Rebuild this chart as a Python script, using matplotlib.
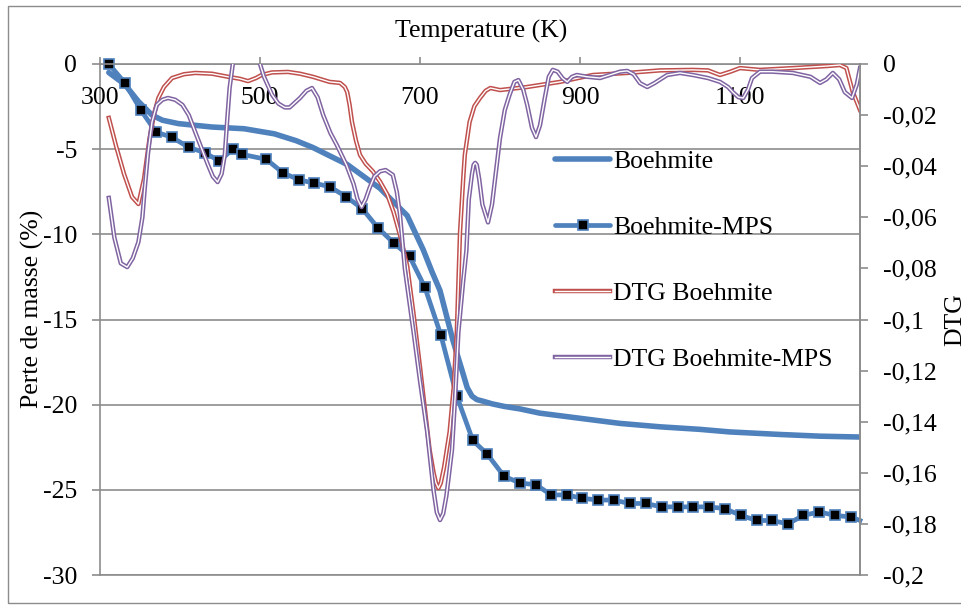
import matplotlib
matplotlib.use("Agg")
import matplotlib.pyplot as plt
import matplotlib.patheffects as pe
from matplotlib.lines import Line2D
from matplotlib.patches import Rectangle
from matplotlib.ticker import FuncFormatter

plt.rcParams["font.family"] = ["Liberation Serif", "DejaVu Serif"]
plt.rcParams["axes.unicode_minus"] = False

# mass loss (%) of plain boehmite
TEMP_B = [311, 331, 348, 365, 378, 398, 440, 480, 518, 545, 566, 609, 650, 684,
          704, 715, 725, 741, 752, 759, 765, 771, 779, 790, 805, 825, 850, 900,
          950, 1000, 1050, 1087, 1150, 1200, 1250]
MASS_B = [-0.5, -1.2, -2.2, -3.0, -3.3, -3.5, -3.7, -3.8, -4.1, -4.5, -4.9, -5.9,
          -7.3, -8.9, -10.9, -12.2, -13.3, -16.2, -17.9, -19.0, -19.5, -19.7,
          -19.8, -19.95, -20.1, -20.25, -20.5, -20.8, -21.1, -21.3, -21.45, -21.6,
          -21.75, -21.85, -21.9]

# mass loss (%) of boehmite-MPS, one sample every ~20 K
TEMP_MPS = [311, 331, 351, 370, 390, 411, 431, 449, 466, 477, 508, 529, 549, 568,
            587, 608, 628, 647, 667, 687, 706, 726, 746, 766, 784, 805, 825, 845,
            864, 884, 903, 923, 942, 962, 982, 1002, 1022, 1041, 1061, 1081, 1101,
            1121, 1140, 1160, 1179, 1199, 1219, 1239, 1250]
MASS_MPS = [0.0, -1.1, -2.7, -4.0, -4.3, -4.9, -5.2, -5.7, -5.0, -5.3, -5.6, -6.4,
            -6.8, -7.0, -7.2, -7.8, -8.5, -9.6, -10.5, -11.3, -13.1, -15.9, -19.5,
            -22.1, -22.9, -24.2, -24.6, -24.7, -25.3, -25.3, -25.5, -25.6, -25.6,
            -25.8, -25.8, -26.0, -26.0, -26.0, -26.0, -26.1, -26.5, -26.8, -26.8,
            -27.0, -26.5, -26.3, -26.5, -26.6, -26.8]

# derivative curves (right axis)
TEMP_DTG_B = [311, 320, 330, 340, 348, 355, 362, 368, 373, 380, 390, 405, 419, 440,
              460, 475, 485, 495, 502, 515, 535, 550, 566, 587, 600, 606, 609, 612,
              615, 620, 625, 632, 641, 650, 659, 667, 675, 684, 692, 700, 712, 717,
              720, 723, 726, 730, 737, 742, 746, 750, 754, 756, 762, 768, 775, 782,
              788, 800, 834, 875, 916, 959, 1000, 1041, 1060, 1075, 1088, 1100, 1125,
              1166, 1209, 1225, 1233, 1241, 1250]
DTG_B = [-0.0211, -0.032, -0.043, -0.052, -0.0548, -0.045, -0.029, -0.019, -0.0133,
         -0.009, -0.0055, -0.004, -0.0035, -0.0038, -0.005, -0.0058, -0.0067,
         -0.0055, -0.0043, -0.0033, -0.0031, -0.0038, -0.005, -0.007, -0.0074,
         -0.009, -0.011, -0.016, -0.0227, -0.030, -0.0356, -0.039, -0.042, -0.046,
         -0.051, -0.058, -0.067, -0.079, -0.098, -0.1186, -0.151, -0.160, -0.164,
         -0.166, -0.164, -0.158, -0.144, -0.127, -0.105, -0.066, -0.045, -0.0356,
         -0.0227, -0.0165, -0.0133, -0.0105, -0.0094, -0.0102, -0.009, -0.007,
         -0.0043, -0.0035, -0.0025, -0.0023, -0.0025, -0.0043, -0.003, -0.0016,
         -0.0023, -0.0016, -0.0008, -0.0004, -0.0016, -0.011, -0.018]

TEMP_DTG_MPS = [311, 318, 326, 334, 341, 348, 353, 356, 360, 365, 371, 378, 385, 394,
                403, 411, 419, 427, 435, 441, 447, 452, 456, 459, 462, 466, 472, 485,
                495, 500, 505, 515, 523, 531, 537, 544, 550, 558, 565, 572, 579, 588,
                596, 608, 617, 622, 627, 632, 637, 643, 650, 657, 666, 671, 675, 681,
                692, 700, 709, 717, 721, 725, 729, 733, 740, 744, 748, 754, 758, 761,
                765, 767, 769, 771, 774, 778, 785, 790, 795, 800, 806, 812, 818, 823,
                829, 834, 840, 845, 850, 856, 861, 866, 872, 878, 884, 890, 896, 909,
                925, 940, 950, 959, 967, 975, 984, 993, 1009, 1025, 1041, 1060, 1075,
                1085, 1091, 1098, 1104, 1110, 1115, 1125, 1140, 1166, 1188, 1200, 1208,
                1216, 1224, 1231, 1240, 1246, 1250]
DTG_MPS = [-0.0524, -0.068, -0.078, -0.0795, -0.076, -0.0697, -0.060, -0.0485,
           -0.035, -0.0227, -0.016, -0.014, -0.0133, -0.014, -0.016, -0.020, -0.0266,
           -0.033, -0.0395, -0.044, -0.0462, -0.043, -0.0356, -0.022, -0.0094, 0.0,
           0.010, 0.015, 0.008, 0.0, -0.005, -0.012, -0.0155, -0.017, -0.017, -0.015,
           -0.0133, -0.0105, -0.0094, -0.013, -0.020, -0.027, -0.0317, -0.0395,
           -0.047, -0.053, -0.056, -0.053, -0.0485, -0.044, -0.042, -0.0415, -0.0434,
           -0.050, -0.059, -0.080, -0.105, -0.124, -0.144, -0.167, -0.1755, -0.1785,
           -0.176, -0.169, -0.151, -0.130, -0.105, -0.085, -0.073, -0.053, -0.043,
           -0.0395, -0.0387, -0.0395, -0.045, -0.055, -0.062, -0.055, -0.042, -0.029,
           -0.018, -0.012, -0.007, -0.0063, -0.010, -0.016, -0.025, -0.0286, -0.024,
           -0.0133, -0.005, -0.0023, -0.003, -0.0055, -0.007, -0.005, -0.0043, -0.005,
           -0.0055, -0.004, -0.003, -0.0027, -0.004, -0.0075, -0.009, -0.0075,
           -0.0043, -0.0035, -0.0043, -0.0055, -0.007, -0.009, -0.011, -0.013,
           -0.0133, -0.010, -0.0055, -0.003, -0.003, -0.0035, -0.005, -0.0074, -0.006,
           -0.0035, -0.006, -0.011, -0.0133, -0.008, -0.0016]

TEMP_TICKS = [300, 500, 700, 900, 1100]
MASS_TICKS = [0, -5, -10, -15, -20, -25, -30]
DTG_TICKS = [0, -0.02, -0.04, -0.06, -0.08, -0.1, -0.12, -0.14, -0.16, -0.18, -0.2]

BLUE = "#4F81BD"
RED = "#C0504D"
PURPLE = "#8064A2"
GREY = "#8C8C8C"
FS = 18.5

W, H = 961, 606
fig = plt.figure(figsize=(W / 100, H / 100), dpi=100)
ax = fig.add_axes([100 / W, 1 - 575 / H, 760 / W, 511 / H])
ax2 = ax.twinx()

# mass curves on the left axis
ax.plot(TEMP_B, MASS_B, color=BLUE, lw=4.0, solid_capstyle="round")
ax.plot(TEMP_MPS, MASS_MPS, color=BLUE, lw=3.4, clip_on=False)
ax.plot(TEMP_MPS[:-1], MASS_MPS[:-1], ls="none", marker="s", ms=7.0,
        mfc="black", mec=BLUE, mew=1.2, clip_on=False)


def double(color):
    # a coloured stroke with a white core gives the double-line look
    return [pe.Stroke(linewidth=3.2, foreground=color), pe.Normal()]


ax2.plot(TEMP_DTG_B, DTG_B, color="white", lw=1.0, path_effects=double(RED))
ax2.plot(TEMP_DTG_MPS, DTG_MPS, color="white", lw=1.0, path_effects=double(PURPLE))

ax.set_xlim(300, 1250)
ax.set_ylim(-30, 0)
ax2.set_ylim(-0.2, 0)

ax.set_yticks(MASS_TICKS)
ax2.set_yticks(DTG_TICKS)
ax2.yaxis.set_major_formatter(FuncFormatter(
    lambda v, _: "0" if abs(v) < 1e-9 else f"{round(v, 3):g}".replace(".", ",")))

ax.set_xticks(TEMP_TICKS)
ax.tick_params(axis="x", top=True, bottom=False, labeltop=False,
               labelbottom=False, direction="out", length=5, width=1.2, color=GREY)
ax.tick_params(axis="y", direction="out", length=5.8, width=1.2, color=GREY,
               labelsize=FS, pad=10.5)
ax2.tick_params(axis="y", direction="out", length=5.8, width=1.2, color=GREY,
                labelsize=FS, pad=10.5)

# temperature labels sit under the axis line at the top
for t in TEMP_TICKS:
    ax.text(t, 1 - 34 / 511, str(t), transform=ax.get_xaxis_transform(),
            ha="center", va="center", fontsize=FS)

ax.yaxis.grid(True, color=GREY, lw=1.2)
ax.set_axisbelow(True)
for side in ("left", "right", "top", "bottom"):
    ax.spines[side].set_color(GREY)
    ax.spines[side].set_linewidth(1.2)
for side in ("left", "top", "bottom"):
    ax2.spines[side].set_visible(False)
ax2.spines["right"].set_color(GREY)
ax2.spines["right"].set_linewidth(1.2)

fig.text(481 / W, 1 - 31 / H, "Temperature (K)", ha="center", va="center", fontsize=FS)
fig.text(32 / W, 1 - 309 / H, "Perte de masse (%)", rotation=90,
         ha="center", va="center", fontsize=FS)
fig.text(955 / W, 1 - 320 / H, "DTG", rotation=90, ha="center", va="center", fontsize=FS)

handles = [
    Line2D([], [], color=BLUE, lw=4.0, solid_capstyle="round"),
    Line2D([], [], color=BLUE, lw=3.4, solid_capstyle="round", marker="s", ms=7.0,
           mfc="black", mec=BLUE, mew=1.2),
    Line2D([], [], color="white", lw=1.0, path_effects=double(RED)),
    Line2D([], [], color="white", lw=1.0, path_effects=double(PURPLE)),
]
labels = ["Boehmite", "Boehmite-MPS", "DTG Boehmite", "DTG Boehmite-MPS"]
ax2.legend(handles, labels, loc="upper left", bbox_to_anchor=(555 / W, 1 - 150 / H),
           bbox_transform=fig.transFigure, frameon=False, fontsize=FS,
           handlelength=2.15, handletextpad=0.12, labelspacing=1.68,
           borderpad=0, borderaxespad=0)

fig.add_artist(Rectangle((8 / W, 1 - 603 / H), 1.0, 597 / H, transform=fig.transFigure,
                         fill=False, ec=GREY, lw=1.0, clip_on=False))

fig.savefig("out.png", dpi=100)
